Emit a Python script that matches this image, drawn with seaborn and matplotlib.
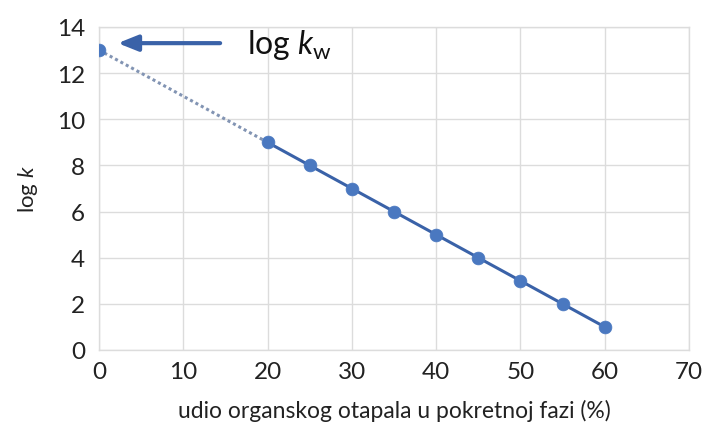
import matplotlib
matplotlib.use("Agg")
import matplotlib.pyplot as plt
import seaborn as sns
import pandas as pd

# Data
x_meas = [20, 25, 30, 35, 40, 45, 50, 55, 60]
logk_meas = [9, 8, 7, 6, 5, 4, 3, 2, 1]
x_extrap = [0, 20]
logk_extrap = [13, 9]
x_ticks = [0, 10, 20, 30, 40, 50, 60, 70]
y_ticks = [0, 2, 4, 6, 8, 10, 12, 14]

sns.set_theme(style="white")
plt.rcParams['font.family'] = ['Lato', 'DejaVu Sans']
plt.rcParams['mathtext.fontset'] = 'custom'
plt.rcParams['mathtext.rm'] = 'Lato'
plt.rcParams['mathtext.it'] = 'Lato:italic'

fig = plt.figure(figsize=(7.04, 4.35), dpi=100)
ax = fig.add_axes([99/704, 1-351/435, (689-99)/704, (351-28)/435])

df_m = pd.DataFrame({"x": x_meas, "y": logk_meas})
df_e = pd.DataFrame({"x": x_extrap, "y": logk_extrap})

sns.lineplot(data=df_e, x="x", y="y", ax=ax, color="#8294b3", linestyle=(0, (1.0, 1.0)), linewidth=2.2)
sns.lineplot(data=df_m, x="x", y="y", ax=ax, color="#3a62a8", linewidth=2.2)
sns.scatterplot(data=pd.concat([df_e.iloc[[0]], df_m]), x="x", y="y", ax=ax,
                color="#4a78c0", s=85, edgecolor="#4a78c0", linewidth=0.5, zorder=5)

ax.set_xlim(0, 70)
ax.set_ylim(0, 14)
ax.set_xticks(x_ticks)
ax.set_yticks(y_ticks)
ax.set_xticklabels([str(v) for v in x_ticks], fontsize=17.5, color="#222222")
ax.set_yticklabels([str(v) for v in y_ticks], fontsize=17.5, color="#222222")
ax.tick_params(axis='both', length=0)
ax.tick_params(axis='x', pad=8)
ax.tick_params(axis='y', pad=10)
ax.grid(True, color="#dcdcdc", linewidth=1)
for s in ax.spines.values():
    s.set_color("#dcdcdc")
    s.set_linewidth(1)

ax.set_xlabel("udio organskog otapala u pokretnoj fazi (%)", fontsize=16.5, color="#222222", labelpad=12)
ax.set_ylabel(r"log $\mathit{k}$", fontsize=16, color="#222222", labelpad=12)

ax.annotate("", xy=(1.9, 13.3), xytext=(14.7, 13.3),
            arrowprops=dict(arrowstyle="-|>,head_length=1.0,head_width=0.4", color="#3a62a8", lw=3),
            annotation_clip=False)
ax.text(17.6, 13.25, r"log $\mathit{k}_{\mathrm{w}}$", fontsize=23, color="#111111",
        va="center", ha="left")

fig.savefig("out.png", dpi=100)
